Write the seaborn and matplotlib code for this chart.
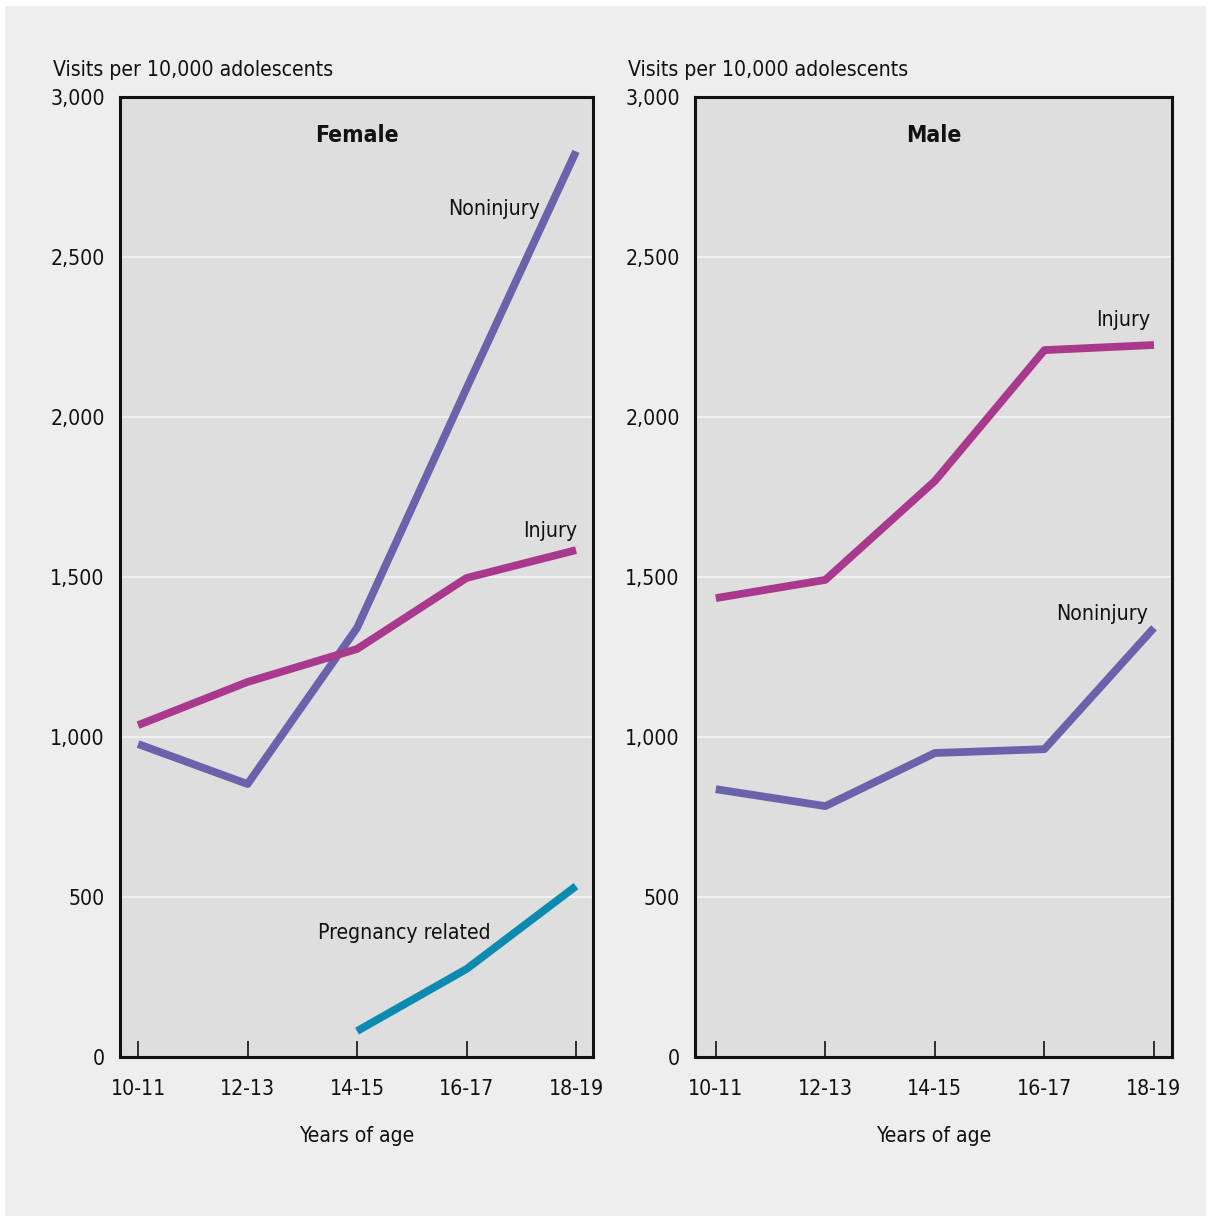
import pandas as pd
import matplotlib
matplotlib.use("Agg")
import matplotlib.pyplot as plt
from matplotlib.patches import Rectangle
import seaborn as sns

# --- data (visits per 10,000 adolescents) ---
ages = ["10-11", "12-13", "14-15", "16-17", "18-19"]
female_noninjury = [978, 853, 1341, 2090, 2830]
female_injury = [1037, 1172, 1275, 1497, 1584]
female_pregnancy = [None, None, 81, 275, 534]
male_injury = [1434, 1491, 1800, 2209, 2225]
male_noninjury = [837, 784, 950, 962, 1341]

purple = "#6b62ac"
magenta = "#a8398c"
teal = "#0c8bb1"

sns.set_theme(style="white")
plt.rcParams["font.family"] = ["DejaVu Sans"]
plt.rcParams["font.stretch"] = "condensed"

FS = 15.2

W, H = 1211, 1220
fig = plt.figure(figsize=(W / 100, H / 100), dpi=100, facecolor="white")
fig.patches.append(Rectangle((5 / W, 4 / H), 1201 / W, 1210 / H, transform=fig.transFigure,
                             facecolor="#eeeeee", edgecolor="none", zorder=-10))

ax1 = fig.add_axes([120 / W, 163 / H, 473 / W, 960 / H])
ax2 = fig.add_axes([695 / W, 163 / H, 477 / W, 960 / H])


def make_df(values):
    d = pd.DataFrame({"x": range(len(ages)), "y": values})
    return d.dropna()


def style_axis(ax, title, xlim):
    ax.set_facecolor("#dedede")
    ax.set_ylim(0, 3000)
    ax.set_xlim(*xlim)
    ax.set_yticks([0, 500, 1000, 1500, 2000, 2500, 3000])
    ax.set_yticklabels(["0", "500", "1,000", "1,500", "2,000", "2,500", "3,000"])
    ax.set_xticks(range(len(ages)))
    ax.set_xticklabels(ages)
    ax.grid(axis="y", color="#f4f4f4", linewidth=1.2)
    ax.grid(axis="x", visible=False)
    ax.set_axisbelow(True)
    ax.tick_params(axis="y", length=0, pad=11, labelsize=FS, labelcolor="#111111")
    ax.tick_params(axis="x", direction="in", length=11.5, width=1.2, color="#111111",
                   pad=15.5, labelsize=FS, labelcolor="#111111", bottom=True)
    for s in ax.spines.values():
        s.set_visible(True)
        s.set_color("#111111")
        s.set_linewidth(2.2)
    ax.set_xlabel("Years of age", fontsize=FS, color="#111111", labelpad=20)
    ax.set_ylabel("")
    ax.text(0.5, 0.96, title, transform=ax.transAxes, ha="center", va="center",
            fontsize=16.5, fontweight="bold", color="#111111")


lw = 5.6
sns.lineplot(data=make_df(female_noninjury), x="x", y="y", ax=ax1, color=purple,
             linewidth=lw, solid_capstyle="butt")
sns.lineplot(data=make_df(female_injury), x="x", y="y", ax=ax1, color=magenta,
             linewidth=lw, solid_capstyle="butt")
sns.lineplot(data=make_df(female_pregnancy), x="x", y="y", ax=ax1, color=teal,
             linewidth=lw, solid_capstyle="butt")

sns.lineplot(data=make_df(male_injury), x="x", y="y", ax=ax2, color=magenta,
             linewidth=lw, solid_capstyle="butt")
sns.lineplot(data=make_df(male_noninjury), x="x", y="y", ax=ax2, color=purple,
             linewidth=lw, solid_capstyle="butt")

style_axis(ax1, "Female", (-0.165, 4.155))
style_axis(ax2, "Male", (-0.19, 4.165))

lab = dict(fontsize=FS, color="#111111", va="center")
ax1.text(3.67, 2650, "Noninjury", ha="right", **lab)
ax1.text(4.01, 1644, "Injury", ha="right", **lab)
ax1.text(1.64, 388, "Pregnancy related", ha="left", **lab)
ax2.text(3.97, 2303, "Injury", ha="right", **lab)
ax2.text(3.95, 1384, "Noninjury", ha="right", **lab)

fig.text(53 / W, 1 - 70 / H, "Visits per 10,000 adolescents", ha="left", va="center",
         fontsize=FS, color="#111111")
fig.text(628 / W, 1 - 70 / H, "Visits per 10,000 adolescents", ha="left", va="center",
         fontsize=FS, color="#111111")

fig.savefig("out.png", dpi=100, facecolor=fig.get_facecolor())
